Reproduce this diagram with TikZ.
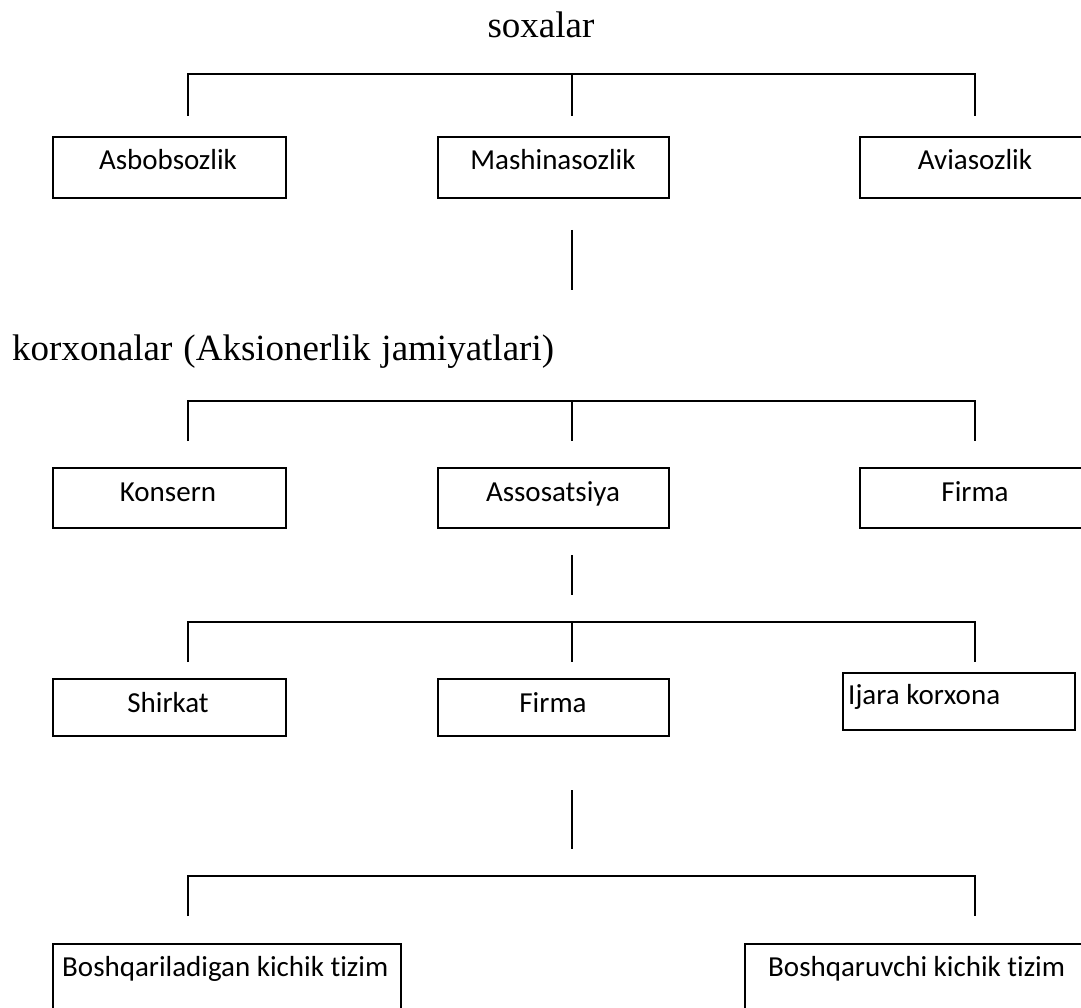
\documentclass[tikz,border=0pt]{standalone}
\usepackage{fontspec}
\setmainfont{Liberation Serif}
\newfontfamily\boxfont[Ligatures=NoCommon]{Carlito}
\begin{document}
\begin{tikzpicture}[x=1pt,y=-1pt,
  boxst/.style={draw=black,line width=1.7pt,inner sep=0pt,anchor=north west,fill=white},
  lbl/.style={font=\boxfont\fontsize{29}{34}\selectfont,inner sep=0pt,anchor=base,text=black},
  ttl/.style={font=\fontsize{37}{42}\selectfont,inner sep=0pt,anchor=base,text=black},
  conn/.style={draw=black,line width=1.7pt}]
\useasboundingbox (0,0) rectangle (1081,1008);
\clip (0,0) rectangle (1081,1008);
\fill[white] (0,0) rectangle (1081,1008);

% ---- titles
\node[ttl] (soxalar) at (541,38) {soxalar};
\node[ttl,anchor=base west] (korxonalar) at (12,360) {korxonalar\hspace{11pt}(Aksionerlik\hspace{11pt}jamiyatlari)};

% ---- row 1
\node[boxst,minimum width=233pt,minimum height=61pt] (asb) at (52,136) {};
\node[boxst,minimum width=231pt,minimum height=61pt] (mash) at (437,136) {};
\node[boxst,minimum width=260pt,minimum height=61pt] (avia) at (859,136) {};
\node[lbl] (tasb) at (168,170) {Asbobsozlik};
\node[lbl] (tmash) at (553,170) {Mashinasozlik};
\node[lbl] (tavia) at (975,170) {Aviasozlik};

\coordinate (r1l) at (188,74);
\coordinate (r1m) at (572,74);
\coordinate (r1r) at (975,74);
\coordinate (r1la) at (188,116);
\coordinate (r1ma) at (572,116);
\coordinate (r1ra) at (975,116);
\draw[conn] (r1la) -- (r1l) -- (r1r) -- (r1ra);
\draw[conn] (r1m) -- (r1ma);
\coordinate (v1a) at (572,230);
\coordinate (v1b) at (572,290);
\draw[conn] (v1a) -- (v1b);

% ---- row 2
\node[boxst,minimum width=233pt,minimum height=60pt] (kons) at (52,467) {};
\node[boxst,minimum width=231pt,minimum height=60pt] (asso) at (437,467) {};
\node[boxst,minimum width=260pt,minimum height=60pt] (firma1) at (859,467) {};
\node[lbl] (tkons) at (168,501) {Konsern};
\node[lbl] (tasso) at (553,501) {Assosatsiya};
\node[lbl] (tfirma1) at (975,501) {Firma};

\coordinate (r2l) at (188,401);
\coordinate (r2m) at (572,401);
\coordinate (r2r) at (975,401);
\coordinate (r2la) at (188,441);
\coordinate (r2ma) at (572,441);
\coordinate (r2ra) at (975,441);
\draw[conn] (r2la) -- (r2l) -- (r2r) -- (r2ra);
\draw[conn] (r2m) -- (r2ma);
\coordinate (v2a) at (572,555);
\coordinate (v2b) at (572,595);
\draw[conn] (v2a) -- (v2b);

% ---- row 3
\node[boxst,minimum width=233pt,minimum height=57pt] (shir) at (52,678) {};
\node[boxst,minimum width=231pt,minimum height=57pt] (firma2) at (437,678) {};
\node[boxst,minimum width=232pt,minimum height=57pt] (ijara) at (842,672) {};
\node[lbl] (tshir) at (168,712) {Shirkat};
\node[lbl] (tfirma2) at (553,712) {Firma};
\node[lbl,anchor=base west] (tijara) at (848,704) {Ijara korxona};

\coordinate (r3l) at (188,622);
\coordinate (r3m) at (572,622);
\coordinate (r3r) at (975,622);
\coordinate (r3la) at (188,662);
\coordinate (r3ma) at (572,662);
\coordinate (r3ra) at (975,662);
\draw[conn] (r3la) -- (r3l) -- (r3r) -- (r3ra);
\draw[conn] (r3m) -- (r3ma);
\coordinate (v3a) at (572,790);
\coordinate (v3b) at (572,849);
\draw[conn] (v3a) -- (v3b);

% ---- row 4
\node[boxst,minimum width=348pt,minimum height=120pt] (bq1) at (52,943) {};
\node[boxst,minimum width=360pt,minimum height=120pt] (bq2) at (744,943) {};
\node[lbl,anchor=base west] (tbq1) at (62,976) {Boshqariladigan kichik tizim};
\node[lbl,anchor=base west] (tbq2) at (768,976) {Boshqaruvchi kichik tizim};

\coordinate (r4l) at (188,876);
\coordinate (r4r) at (975,876);
\coordinate (r4la) at (188,916);
\coordinate (r4ra) at (975,916);
\draw[conn] (r4la) -- (r4l) -- (r4r) -- (r4ra);
\end{tikzpicture}
\end{document}
